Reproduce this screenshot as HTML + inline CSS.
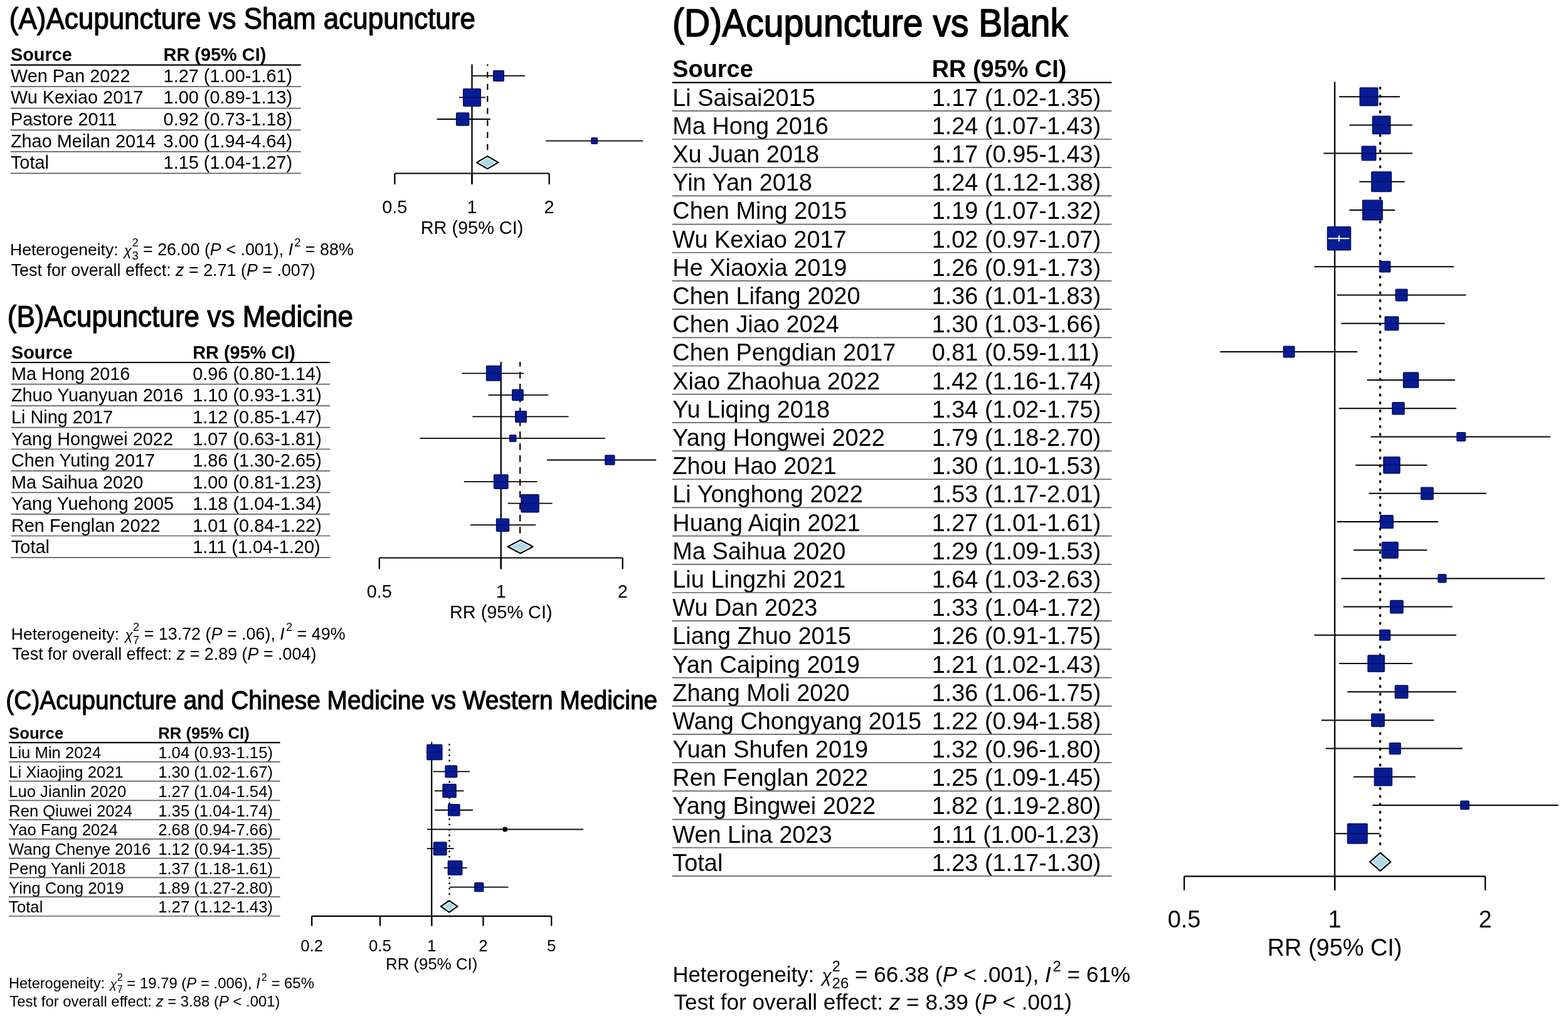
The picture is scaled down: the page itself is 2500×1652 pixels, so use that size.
<!DOCTYPE html>
<html><head><meta charset="utf-8"><title>Forest plots</title>
<style>html,body{margin:0;padding:0;background:#fff;}svg{display:block;}text{font-family:'Liberation Sans', Arial, Helvetica, sans-serif;fill:#000;}</style></head><body>
<svg xmlns="http://www.w3.org/2000/svg" width="2500" height="1652" viewBox="0 0 2500 1652">
<rect width="2500" height="1652" fill="#fff"/>
<text x="14.80" y="45.90" font-size="48.70" textLength="743.13" lengthAdjust="spacingAndGlyphs" stroke="#000" stroke-width="1.25" stroke-linejoin="round">(A)Acupuncture vs Sham acupuncture</text>
<text x="16.90" y="96.90" font-size="28.90" font-weight="bold">Source</text>
<text x="260.60" y="96.90" font-size="28.90" font-weight="bold">RR (95% CI)</text>
<line x1="16.70" y1="103.60" x2="479.80" y2="103.60" stroke="#000" stroke-width="2.2" />
<text x="16.90" y="130.90" font-size="28.90">Wen Pan 2022</text>
<text x="260.60" y="130.90" font-size="28.90">1.27 (1.00-1.61)</text>
<line x1="16.70" y1="138.16" x2="479.80" y2="138.16" stroke="#5c5f6e" stroke-width="1.7" />
<text x="16.90" y="165.46" font-size="28.90">Wu Kexiao 2017</text>
<text x="260.60" y="165.46" font-size="28.90">1.00 (0.89-1.13)</text>
<line x1="16.70" y1="172.72" x2="479.80" y2="172.72" stroke="#5c5f6e" stroke-width="1.7" />
<text x="16.90" y="200.02" font-size="28.90">Pastore 2011</text>
<text x="260.60" y="200.02" font-size="28.90">0.92 (0.73-1.18)</text>
<line x1="16.70" y1="207.28" x2="479.80" y2="207.28" stroke="#5c5f6e" stroke-width="1.7" />
<text x="16.90" y="234.58" font-size="28.90">Zhao Meilan 2014</text>
<text x="260.60" y="234.58" font-size="28.90">3.00 (1.94-4.64)</text>
<line x1="16.70" y1="241.84" x2="479.80" y2="241.84" stroke="#5c5f6e" stroke-width="1.7" />
<text x="16.90" y="269.14" font-size="28.90">Total</text>
<text x="260.60" y="269.14" font-size="28.90">1.15 (1.04-1.27)</text>
<line x1="16.70" y1="276.40" x2="479.80" y2="276.40" stroke="#5c5f6e" stroke-width="1.7" />
<line x1="777.33" y1="102.60" x2="777.33" y2="240.34" stroke="#000" stroke-width="2.2" stroke-dasharray="9.5 9.7" stroke-dashoffset="7.2"/>
<line x1="752.50" y1="102.60" x2="752.50" y2="294.00" stroke="#000" stroke-width="2.3" />
<line x1="752.50" y1="120.88" x2="837.11" y2="120.88" stroke="#000" stroke-width="1.8" />
<rect x="786.67" y="112.58" width="16.60" height="16.60" rx="1.2" fill="#081c93" stroke="#030e62" stroke-width="1.4"/>
<line x1="786.22" y1="120.88" x2="803.72" y2="120.88" stroke="#000a50" stroke-width="1.8" stroke-opacity="0.55"/>
<line x1="731.80" y1="155.44" x2="774.21" y2="155.44" stroke="#000" stroke-width="1.8" />
<rect x="738.70" y="141.64" width="27.60" height="27.60" rx="1.2" fill="#081c93" stroke="#030e62" stroke-width="1.4"/>
<line x1="738.25" y1="155.44" x2="766.75" y2="155.44" stroke="#000a50" stroke-width="1.8" stroke-opacity="0.55"/>
<line x1="696.59" y1="190.00" x2="781.91" y2="190.00" stroke="#000" stroke-width="1.8" />
<rect x="727.64" y="179.95" width="20.10" height="20.10" rx="1.2" fill="#081c93" stroke="#030e62" stroke-width="1.4"/>
<line x1="727.19" y1="190.00" x2="748.19" y2="190.00" stroke="#000a50" stroke-width="1.8" stroke-opacity="0.55"/>
<line x1="870.24" y1="224.56" x2="1025.17" y2="224.56" stroke="#000" stroke-width="1.8" />
<rect x="942.89" y="219.76" width="9.60" height="9.60" rx="1.2" fill="#081c93" stroke="#030e62" stroke-width="1.4"/>
<line x1="942.44" y1="224.56" x2="952.94" y2="224.56" stroke="#000a50" stroke-width="1.8" stroke-opacity="0.55"/>
<path d="M760.00 259.12 L777.22 249.12 L794.43 259.12 L777.22 269.12 Z" fill="#b4d9e6" stroke="#000" stroke-width="2.3" stroke-linejoin="round"/>
<path d="M763.88 259.12 L777.22 251.38 L790.55 259.12 L777.22 266.86 Z" fill="none" stroke="#d3f6fd" stroke-width="1.5" stroke-linejoin="round"/>
<line x1="629.40" y1="276.50" x2="875.70" y2="276.50" stroke="#000" stroke-width="2.2" />
<line x1="629.35" y1="276.50" x2="629.35" y2="294.00" stroke="#000" stroke-width="2.3" />
<text x="629.35" y="339.70" font-size="28.90" text-anchor="middle">0.5</text>
<line x1="752.50" y1="276.50" x2="752.50" y2="294.00" stroke="#000" stroke-width="2.3" />
<text x="752.50" y="339.70" font-size="28.90" text-anchor="middle">1</text>
<line x1="875.65" y1="276.50" x2="875.65" y2="294.00" stroke="#000" stroke-width="2.3" />
<text x="875.65" y="339.70" font-size="28.90" text-anchor="middle">2</text>
<text x="752.50" y="373.30" font-size="28.90" text-anchor="middle">RR (95% CI)</text>
<text x="16.12" y="406.60" font-size="26.88"><tspan font-size="26.53">Heterogeneity:</tspan> <tspan x="197.85" font-size="22.04" font-style="italic">χ</tspan><tspan x="210.38" y="393.16" font-size="18.28">2</tspan><tspan x="210.38" y="414.21" font-size="18.28">3</tspan><tspan x="220.55" y="406.60"> = 26.00 (</tspan><tspan font-style="italic">P</tspan> &lt; .001), <tspan font-style="italic">I</tspan><tspan font-size="18.28" y="393.16" dx="2.15">2</tspan><tspan y="406.60" dx="0.00"> = 88%</tspan></text>
<text x="17.70" y="439.50" font-size="26.88">Test for overall effect: <tspan font-style="italic">z</tspan> = 2.71 (<tspan font-style="italic">P</tspan> = .007)</text>
<text x="11.79" y="521.20" font-size="48.70" textLength="551.34" lengthAdjust="spacingAndGlyphs" stroke="#000" stroke-width="1.25" stroke-linejoin="round">(B)Acupuncture vs Medicine</text>
<text x="17.90" y="571.50" font-size="28.90" font-weight="bold">Source</text>
<text x="307.20" y="571.50" font-size="28.90" font-weight="bold">RR (95% CI)</text>
<line x1="17.50" y1="578.00" x2="526.30" y2="578.00" stroke="#000" stroke-width="2.2" />
<text x="17.90" y="605.90" font-size="28.90">Ma Hong 2016</text>
<text x="307.20" y="605.90" font-size="28.90">0.96 (0.80-1.14)</text>
<line x1="17.50" y1="612.56" x2="526.30" y2="612.56" stroke="#5c5f6e" stroke-width="1.7" />
<text x="17.90" y="640.46" font-size="28.90">Zhuo Yuanyuan 2016</text>
<text x="307.20" y="640.46" font-size="28.90">1.10 (0.93-1.31)</text>
<line x1="17.50" y1="647.12" x2="526.30" y2="647.12" stroke="#5c5f6e" stroke-width="1.7" />
<text x="17.90" y="675.02" font-size="28.90">Li Ning 2017</text>
<text x="307.20" y="675.02" font-size="28.90">1.12 (0.85-1.47)</text>
<line x1="17.50" y1="681.68" x2="526.30" y2="681.68" stroke="#5c5f6e" stroke-width="1.7" />
<text x="17.90" y="709.58" font-size="28.90">Yang Hongwei 2022</text>
<text x="307.20" y="709.58" font-size="28.90">1.07 (0.63-1.81)</text>
<line x1="17.50" y1="716.24" x2="526.30" y2="716.24" stroke="#5c5f6e" stroke-width="1.7" />
<text x="17.90" y="744.14" font-size="28.90">Chen Yuting 2017</text>
<text x="307.20" y="744.14" font-size="28.90">1.86 (1.30-2.65)</text>
<line x1="17.50" y1="750.80" x2="526.30" y2="750.80" stroke="#5c5f6e" stroke-width="1.7" />
<text x="17.90" y="778.70" font-size="28.90">Ma Saihua 2020</text>
<text x="307.20" y="778.70" font-size="28.90">1.00 (0.81-1.23)</text>
<line x1="17.50" y1="785.36" x2="526.30" y2="785.36" stroke="#5c5f6e" stroke-width="1.7" />
<text x="17.90" y="813.26" font-size="28.90">Yang Yuehong 2005</text>
<text x="307.20" y="813.26" font-size="28.90">1.18 (1.04-1.34)</text>
<line x1="17.50" y1="819.92" x2="526.30" y2="819.92" stroke="#5c5f6e" stroke-width="1.7" />
<text x="17.90" y="847.82" font-size="28.90">Ren Fenglan 2022</text>
<text x="307.20" y="847.82" font-size="28.90">1.01 (0.84-1.22)</text>
<line x1="17.50" y1="854.48" x2="526.30" y2="854.48" stroke="#5c5f6e" stroke-width="1.7" />
<text x="17.90" y="882.38" font-size="28.90">Total</text>
<text x="307.20" y="882.38" font-size="28.90">1.11 (1.04-1.20)</text>
<line x1="17.50" y1="889.04" x2="526.30" y2="889.04" stroke="#5c5f6e" stroke-width="1.7" />
<line x1="829.20" y1="577.00" x2="829.20" y2="852.98" stroke="#000" stroke-width="2.2" stroke-dasharray="10.3 8.7" stroke-dashoffset="2.9"/>
<line x1="798.75" y1="577.00" x2="798.75" y2="907.40" stroke="#000" stroke-width="2.3" />
<line x1="736.31" y1="595.28" x2="835.41" y2="595.28" stroke="#000" stroke-width="1.8" />
<rect x="775.53" y="583.48" width="23.60" height="23.60" rx="1.2" fill="#081c93" stroke="#030e62" stroke-width="1.4"/>
<line x1="775.08" y1="595.28" x2="799.58" y2="595.28" stroke="#000a50" stroke-width="1.8" stroke-opacity="0.55"/>
<line x1="778.44" y1="629.84" x2="874.31" y2="629.84" stroke="#000" stroke-width="1.8" />
<rect x="816.72" y="621.14" width="17.40" height="17.40" rx="1.2" fill="#081c93" stroke="#030e62" stroke-width="1.4"/>
<line x1="816.27" y1="629.84" x2="834.57" y2="629.84" stroke="#000a50" stroke-width="1.8" stroke-opacity="0.55"/>
<line x1="753.28" y1="664.40" x2="906.55" y2="664.40" stroke="#000" stroke-width="1.8" />
<rect x="821.66" y="655.60" width="17.60" height="17.60" rx="1.2" fill="#081c93" stroke="#030e62" stroke-width="1.4"/>
<line x1="821.21" y1="664.40" x2="839.71" y2="664.40" stroke="#000a50" stroke-width="1.8" stroke-opacity="0.55"/>
<line x1="669.47" y1="698.96" x2="964.77" y2="698.96" stroke="#000" stroke-width="1.8" />
<rect x="812.48" y="693.76" width="10.40" height="10.40" rx="1.2" fill="#081c93" stroke="#030e62" stroke-width="1.4"/>
<line x1="812.03" y1="698.96" x2="823.33" y2="698.96" stroke="#000a50" stroke-width="1.8" stroke-opacity="0.55"/>
<line x1="872.16" y1="733.52" x2="1046.20" y2="733.52" stroke="#000" stroke-width="1.8" />
<rect x="964.94" y="726.07" width="14.90" height="14.90" rx="1.2" fill="#081c93" stroke="#030e62" stroke-width="1.4"/>
<line x1="964.49" y1="733.52" x2="980.29" y2="733.52" stroke="#000a50" stroke-width="1.8" stroke-opacity="0.55"/>
<line x1="739.79" y1="768.08" x2="856.67" y2="768.08" stroke="#000" stroke-width="1.8" />
<rect x="787.55" y="756.88" width="22.40" height="22.40" rx="1.2" fill="#081c93" stroke="#030e62" stroke-width="1.4"/>
<line x1="787.10" y1="768.08" x2="810.40" y2="768.08" stroke="#000a50" stroke-width="1.8" stroke-opacity="0.55"/>
<line x1="809.72" y1="802.64" x2="880.64" y2="802.64" stroke="#000" stroke-width="1.8" />
<rect x="831.01" y="788.59" width="28.10" height="28.10" rx="1.2" fill="#081c93" stroke="#030e62" stroke-width="1.4"/>
<line x1="830.56" y1="802.64" x2="859.56" y2="802.64" stroke="#000a50" stroke-width="1.8" stroke-opacity="0.55"/>
<line x1="749.96" y1="837.20" x2="854.39" y2="837.20" stroke="#000" stroke-width="1.8" />
<rect x="791.48" y="827.15" width="20.10" height="20.10" rx="1.2" fill="#081c93" stroke="#030e62" stroke-width="1.4"/>
<line x1="791.03" y1="837.20" x2="812.03" y2="837.20" stroke="#000a50" stroke-width="1.8" stroke-opacity="0.55"/>
<path d="M809.72 871.76 L829.74 861.26 L849.77 871.76 L829.74 882.26 Z" fill="#b4d9e6" stroke="#000" stroke-width="2.3" stroke-linejoin="round"/>
<path d="M813.92 871.76 L829.74 863.46 L845.57 871.76 L829.74 880.06 Z" fill="none" stroke="#d3f6fd" stroke-width="1.5" stroke-linejoin="round"/>
<line x1="604.80" y1="889.50" x2="992.70" y2="889.50" stroke="#000" stroke-width="2.2" />
<line x1="604.80" y1="889.50" x2="604.80" y2="907.40" stroke="#000" stroke-width="2.3" />
<text x="604.80" y="952.50" font-size="28.90" text-anchor="middle">0.5</text>
<line x1="798.75" y1="889.50" x2="798.75" y2="907.40" stroke="#000" stroke-width="2.3" />
<text x="798.75" y="952.50" font-size="28.90" text-anchor="middle">1</text>
<line x1="992.70" y1="889.50" x2="992.70" y2="907.40" stroke="#000" stroke-width="2.3" />
<text x="992.70" y="952.50" font-size="28.90" text-anchor="middle">2</text>
<text x="798.75" y="985.80" font-size="28.90" text-anchor="middle">RR (95% CI)</text>
<text x="17.77" y="1019.80" font-size="26.88"><tspan font-size="26.53">Heterogeneity:</tspan> <tspan x="199.50" font-size="22.04" font-style="italic">χ</tspan><tspan x="212.03" y="1006.36" font-size="18.28">2</tspan><tspan x="212.03" y="1027.41" font-size="18.28">7</tspan><tspan x="222.20" y="1019.80"> = 13.72 (</tspan><tspan font-style="italic">P</tspan> = .06), <tspan font-style="italic">I</tspan><tspan font-size="18.28" y="1006.36" dx="2.15">2</tspan><tspan y="1019.80" dx="0.00"> = 49%</tspan></text>
<text x="19.35" y="1052.20" font-size="26.88">Test for overall effect: <tspan font-style="italic">z</tspan> = 2.89 (<tspan font-style="italic">P</tspan> = .004)</text>
<text x="9.37" y="1130.80" font-size="43.00" textLength="1038.79" lengthAdjust="spacingAndGlyphs" stroke="#000" stroke-width="1.15" stroke-linejoin="round">(C)Acupuncture and Chinese Medicine vs Western Medicine</text>
<text x="14.10" y="1177.80" font-size="25.70" font-weight="bold">Source</text>
<text x="252.20" y="1177.80" font-size="25.70" font-weight="bold">RR (95% CI)</text>
<line x1="14.00" y1="1184.20" x2="446.50" y2="1184.20" stroke="#000" stroke-width="2.2" />
<text x="14.10" y="1209.40" font-size="25.70">Liu Min 2024</text>
<text x="252.20" y="1209.40" font-size="25.70">1.04 (0.93-1.15)</text>
<line x1="14.00" y1="1214.93" x2="446.50" y2="1214.93" stroke="#5c5f6e" stroke-width="1.7" />
<text x="14.10" y="1240.13" font-size="25.70">Li Xiaojing 2021</text>
<text x="252.20" y="1240.13" font-size="25.70">1.30 (1.02-1.67)</text>
<line x1="14.00" y1="1245.66" x2="446.50" y2="1245.66" stroke="#5c5f6e" stroke-width="1.7" />
<text x="14.10" y="1270.86" font-size="25.70">Luo Jianlin 2020</text>
<text x="252.20" y="1270.86" font-size="25.70">1.27 (1.04-1.54)</text>
<line x1="14.00" y1="1276.39" x2="446.50" y2="1276.39" stroke="#5c5f6e" stroke-width="1.7" />
<text x="14.10" y="1301.59" font-size="25.70">Ren Qiuwei 2024</text>
<text x="252.20" y="1301.59" font-size="25.70">1.35 (1.04-1.74)</text>
<line x1="14.00" y1="1307.12" x2="446.50" y2="1307.12" stroke="#5c5f6e" stroke-width="1.7" />
<text x="14.10" y="1332.32" font-size="25.70">Yao Fang 2024</text>
<text x="252.20" y="1332.32" font-size="25.70">2.68 (0.94-7.66)</text>
<line x1="14.00" y1="1337.85" x2="446.50" y2="1337.85" stroke="#5c5f6e" stroke-width="1.7" />
<text x="14.10" y="1363.05" font-size="25.70">Wang Chenye 2016</text>
<text x="252.20" y="1363.05" font-size="25.70">1.12 (0.94-1.35)</text>
<line x1="14.00" y1="1368.58" x2="446.50" y2="1368.58" stroke="#5c5f6e" stroke-width="1.7" />
<text x="14.10" y="1393.78" font-size="25.70">Peng Yanli 2018</text>
<text x="252.20" y="1393.78" font-size="25.70">1.37 (1.18-1.61)</text>
<line x1="14.00" y1="1399.31" x2="446.50" y2="1399.31" stroke="#5c5f6e" stroke-width="1.7" />
<text x="14.10" y="1424.51" font-size="25.70">Ying Cong 2019</text>
<text x="252.20" y="1424.51" font-size="25.70">1.89 (1.27-2.80)</text>
<line x1="14.00" y1="1430.04" x2="446.50" y2="1430.04" stroke="#5c5f6e" stroke-width="1.7" />
<text x="14.10" y="1455.24" font-size="25.70">Total</text>
<text x="252.20" y="1455.24" font-size="25.70">1.27 (1.12-1.43)</text>
<line x1="14.00" y1="1460.77" x2="446.50" y2="1460.77" stroke="#5c5f6e" stroke-width="1.7" />
<line x1="716.57" y1="1183.20" x2="716.57" y2="1428.54" stroke="#000" stroke-width="3.0" stroke-dasharray="0.01 8.5" stroke-linecap="round" stroke-dashoffset="-4.0"/>
<line x1="688.20" y1="1183.20" x2="688.20" y2="1476.50" stroke="#000" stroke-width="2.3" />
<line x1="679.59" y1="1199.57" x2="704.79" y2="1199.57" stroke="#000" stroke-width="1.8" />
<rect x="680.81" y="1187.52" width="24.10" height="24.10" rx="1.2" fill="#081c93" stroke="#030e62" stroke-width="1.4"/>
<line x1="680.36" y1="1199.57" x2="704.79" y2="1199.57" stroke="#000a50" stroke-width="1.8" stroke-opacity="0.55"/>
<line x1="690.55" y1="1230.30" x2="749.07" y2="1230.30" stroke="#000" stroke-width="1.8" />
<rect x="710.04" y="1221.00" width="18.60" height="18.60" rx="1.2" fill="#081c93" stroke="#030e62" stroke-width="1.4"/>
<line x1="709.59" y1="1230.30" x2="729.09" y2="1230.30" stroke="#000a50" stroke-width="1.8" stroke-opacity="0.55"/>
<line x1="692.86" y1="1261.03" x2="739.45" y2="1261.03" stroke="#000" stroke-width="1.8" />
<rect x="706.02" y="1250.48" width="21.10" height="21.10" rx="1.2" fill="#081c93" stroke="#030e62" stroke-width="1.4"/>
<line x1="705.57" y1="1261.03" x2="727.57" y2="1261.03" stroke="#000a50" stroke-width="1.8" stroke-opacity="0.55"/>
<line x1="692.86" y1="1291.76" x2="753.94" y2="1291.76" stroke="#000" stroke-width="1.8" />
<rect x="714.67" y="1282.61" width="18.30" height="18.30" rx="1.2" fill="#081c93" stroke="#030e62" stroke-width="1.4"/>
<line x1="714.22" y1="1291.76" x2="733.42" y2="1291.76" stroke="#000a50" stroke-width="1.8" stroke-opacity="0.55"/>
<line x1="680.86" y1="1322.49" x2="929.86" y2="1322.49" stroke="#111" stroke-width="1.8" />
<circle cx="805.21" cy="1322.49" r="4" fill="#000"/>
<line x1="680.86" y1="1353.22" x2="723.82" y2="1353.22" stroke="#000" stroke-width="1.8" />
<rect x="691.35" y="1342.92" width="20.60" height="20.60" rx="1.2" fill="#081c93" stroke="#030e62" stroke-width="1.4"/>
<line x1="690.90" y1="1353.22" x2="712.40" y2="1353.22" stroke="#000a50" stroke-width="1.8" stroke-opacity="0.55"/>
<line x1="707.85" y1="1383.95" x2="744.73" y2="1383.95" stroke="#000" stroke-width="1.8" />
<rect x="714.37" y="1372.75" width="22.40" height="22.40" rx="1.2" fill="#081c93" stroke="#030e62" stroke-width="1.4"/>
<line x1="713.92" y1="1383.95" x2="737.22" y2="1383.95" stroke="#000a50" stroke-width="1.8" stroke-opacity="0.55"/>
<line x1="716.57" y1="1414.67" x2="810.41" y2="1414.67" stroke="#000" stroke-width="1.8" />
<rect x="756.81" y="1407.72" width="13.90" height="13.90" rx="1.2" fill="#081c93" stroke="#030e62" stroke-width="1.4"/>
<line x1="756.36" y1="1414.67" x2="771.16" y2="1414.67" stroke="#000a50" stroke-width="1.8" stroke-opacity="0.55"/>
<path d="M702.85 1445.40 L716.15 1436.20 L729.45 1445.40 L716.15 1454.61 Z" fill="#b4d9e6" stroke="#000" stroke-width="2.3" stroke-linejoin="round"/>
<path d="M706.28 1445.40 L716.15 1438.58 L726.02 1445.40 L716.15 1452.23 Z" fill="none" stroke="#d3f6fd" stroke-width="1.5" stroke-linejoin="round"/>
<line x1="497.20" y1="1460.90" x2="879.20" y2="1460.90" stroke="#000" stroke-width="2.2" />
<line x1="497.17" y1="1460.90" x2="497.17" y2="1476.50" stroke="#000" stroke-width="2.3" />
<text x="497.17" y="1516.90" font-size="25.80" text-anchor="middle">0.2</text>
<line x1="605.93" y1="1460.90" x2="605.93" y2="1476.50" stroke="#000" stroke-width="2.3" />
<text x="605.93" y="1516.90" font-size="25.80" text-anchor="middle">0.5</text>
<line x1="688.20" y1="1460.90" x2="688.20" y2="1476.50" stroke="#000" stroke-width="2.3" />
<text x="688.20" y="1516.90" font-size="25.80" text-anchor="middle">1</text>
<line x1="770.47" y1="1460.90" x2="770.47" y2="1476.50" stroke="#000" stroke-width="2.3" />
<text x="770.47" y="1516.90" font-size="25.80" text-anchor="middle">2</text>
<line x1="879.23" y1="1460.90" x2="879.23" y2="1476.50" stroke="#000" stroke-width="2.3" />
<text x="879.23" y="1516.90" font-size="25.80" text-anchor="middle">5</text>
<text x="688.20" y="1546.30" font-size="25.80" text-anchor="middle">RR (95% CI)</text>
<text x="13.96" y="1576.30" font-size="23.90"><tspan font-size="23.59">Heterogeneity:</tspan> <tspan x="175.55" font-size="19.60" font-style="italic">χ</tspan><tspan x="186.69" y="1564.35" font-size="16.25">2</tspan><tspan x="186.69" y="1583.06" font-size="16.25">7</tspan><tspan x="195.73" y="1576.30"> = 19.79 (</tspan><tspan font-style="italic">P</tspan> = .006), <tspan font-style="italic">I</tspan><tspan font-size="16.25" y="1564.35" dx="1.91">2</tspan><tspan y="1576.30" dx="0.00"> = 65%</tspan></text>
<text x="15.36" y="1604.70" font-size="23.90">Test for overall effect: <tspan font-style="italic">z</tspan> = 3.88 (<tspan font-style="italic">P</tspan> &lt; .001)</text>
<text x="1072.01" y="58.00" font-size="63.50" textLength="631.05" lengthAdjust="spacingAndGlyphs" stroke="#000" stroke-width="1.7" stroke-linejoin="round">(D)Acupuncture vs Blank</text>
<text x="1072.30" y="122.90" font-size="37.90" font-weight="bold">Source</text>
<text x="1485.70" y="122.90" font-size="37.90" font-weight="bold">RR (95% CI)</text>
<line x1="1071.70" y1="131.60" x2="1772.50" y2="131.60" stroke="#000" stroke-width="2.2" />
<text x="1072.30" y="168.70" font-size="37.90">Li Saisai2015</text>
<text x="1485.70" y="168.70" font-size="37.90">1.17 (1.02-1.35)</text>
<line x1="1071.70" y1="176.79" x2="1772.50" y2="176.79" stroke="#5c5f6e" stroke-width="1.7" />
<text x="1072.30" y="213.89" font-size="37.90">Ma Hong 2016</text>
<text x="1485.70" y="213.89" font-size="37.90">1.24 (1.07-1.43)</text>
<line x1="1071.70" y1="221.98" x2="1772.50" y2="221.98" stroke="#5c5f6e" stroke-width="1.7" />
<text x="1072.30" y="259.08" font-size="37.90">Xu Juan 2018</text>
<text x="1485.70" y="259.08" font-size="37.90">1.17 (0.95-1.43)</text>
<line x1="1071.70" y1="267.17" x2="1772.50" y2="267.17" stroke="#5c5f6e" stroke-width="1.7" />
<text x="1072.30" y="304.27" font-size="37.90">Yin Yan 2018</text>
<text x="1485.70" y="304.27" font-size="37.90">1.24 (1.12-1.38)</text>
<line x1="1071.70" y1="312.36" x2="1772.50" y2="312.36" stroke="#5c5f6e" stroke-width="1.7" />
<text x="1072.30" y="349.46" font-size="37.90">Chen Ming 2015</text>
<text x="1485.70" y="349.46" font-size="37.90">1.19 (1.07-1.32)</text>
<line x1="1071.70" y1="357.55" x2="1772.50" y2="357.55" stroke="#5c5f6e" stroke-width="1.7" />
<text x="1072.30" y="394.65" font-size="37.90">Wu Kexiao 2017</text>
<text x="1485.70" y="394.65" font-size="37.90">1.02 (0.97-1.07)</text>
<line x1="1071.70" y1="402.74" x2="1772.50" y2="402.74" stroke="#5c5f6e" stroke-width="1.7" />
<text x="1072.30" y="439.84" font-size="37.90">He Xiaoxia 2019</text>
<text x="1485.70" y="439.84" font-size="37.90">1.26 (0.91-1.73)</text>
<line x1="1071.70" y1="447.93" x2="1772.50" y2="447.93" stroke="#5c5f6e" stroke-width="1.7" />
<text x="1072.30" y="485.03" font-size="37.90">Chen Lifang 2020</text>
<text x="1485.70" y="485.03" font-size="37.90">1.36 (1.01-1.83)</text>
<line x1="1071.70" y1="493.12" x2="1772.50" y2="493.12" stroke="#5c5f6e" stroke-width="1.7" />
<text x="1072.30" y="530.22" font-size="37.90">Chen Jiao 2024</text>
<text x="1485.70" y="530.22" font-size="37.90">1.30 (1.03-1.66)</text>
<line x1="1071.70" y1="538.31" x2="1772.50" y2="538.31" stroke="#5c5f6e" stroke-width="1.7" />
<text x="1072.30" y="575.41" font-size="37.90">Chen Pengdian 2017</text>
<text x="1485.70" y="575.41" font-size="37.90">0.81 (0.59-1.11)</text>
<line x1="1071.70" y1="583.50" x2="1772.50" y2="583.50" stroke="#5c5f6e" stroke-width="1.7" />
<text x="1072.30" y="620.60" font-size="37.90">Xiao Zhaohua 2022</text>
<text x="1485.70" y="620.60" font-size="37.90">1.42 (1.16-1.74)</text>
<line x1="1071.70" y1="628.69" x2="1772.50" y2="628.69" stroke="#5c5f6e" stroke-width="1.7" />
<text x="1072.30" y="665.79" font-size="37.90">Yu Liqing 2018</text>
<text x="1485.70" y="665.79" font-size="37.90">1.34 (1.02-1.75)</text>
<line x1="1071.70" y1="673.88" x2="1772.50" y2="673.88" stroke="#5c5f6e" stroke-width="1.7" />
<text x="1072.30" y="710.98" font-size="37.90">Yang Hongwei 2022</text>
<text x="1485.70" y="710.98" font-size="37.90">1.79 (1.18-2.70)</text>
<line x1="1071.70" y1="719.07" x2="1772.50" y2="719.07" stroke="#5c5f6e" stroke-width="1.7" />
<text x="1072.30" y="756.17" font-size="37.90">Zhou Hao 2021</text>
<text x="1485.70" y="756.17" font-size="37.90">1.30 (1.10-1.53)</text>
<line x1="1071.70" y1="764.26" x2="1772.50" y2="764.26" stroke="#5c5f6e" stroke-width="1.7" />
<text x="1072.30" y="801.36" font-size="37.90">Li Yonghong 2022</text>
<text x="1485.70" y="801.36" font-size="37.90">1.53 (1.17-2.01)</text>
<line x1="1071.70" y1="809.45" x2="1772.50" y2="809.45" stroke="#5c5f6e" stroke-width="1.7" />
<text x="1072.30" y="846.55" font-size="37.90">Huang Aiqin 2021</text>
<text x="1485.70" y="846.55" font-size="37.90">1.27 (1.01-1.61)</text>
<line x1="1071.70" y1="854.64" x2="1772.50" y2="854.64" stroke="#5c5f6e" stroke-width="1.7" />
<text x="1072.30" y="891.74" font-size="37.90">Ma Saihua 2020</text>
<text x="1485.70" y="891.74" font-size="37.90">1.29 (1.09-1.53)</text>
<line x1="1071.70" y1="899.83" x2="1772.50" y2="899.83" stroke="#5c5f6e" stroke-width="1.7" />
<text x="1072.30" y="936.93" font-size="37.90">Liu Lingzhi 2021</text>
<text x="1485.70" y="936.93" font-size="37.90">1.64 (1.03-2.63)</text>
<line x1="1071.70" y1="945.02" x2="1772.50" y2="945.02" stroke="#5c5f6e" stroke-width="1.7" />
<text x="1072.30" y="982.12" font-size="37.90">Wu Dan 2023</text>
<text x="1485.70" y="982.12" font-size="37.90">1.33 (1.04-1.72)</text>
<line x1="1071.70" y1="990.21" x2="1772.50" y2="990.21" stroke="#5c5f6e" stroke-width="1.7" />
<text x="1072.30" y="1027.31" font-size="37.90">Liang Zhuo 2015</text>
<text x="1485.70" y="1027.31" font-size="37.90">1.26 (0.91-1.75)</text>
<line x1="1071.70" y1="1035.40" x2="1772.50" y2="1035.40" stroke="#5c5f6e" stroke-width="1.7" />
<text x="1072.30" y="1072.50" font-size="37.90">Yan Caiping 2019</text>
<text x="1485.70" y="1072.50" font-size="37.90">1.21 (1.02-1.43)</text>
<line x1="1071.70" y1="1080.59" x2="1772.50" y2="1080.59" stroke="#5c5f6e" stroke-width="1.7" />
<text x="1072.30" y="1117.69" font-size="37.90">Zhang Moli 2020</text>
<text x="1485.70" y="1117.69" font-size="37.90">1.36 (1.06-1.75)</text>
<line x1="1071.70" y1="1125.78" x2="1772.50" y2="1125.78" stroke="#5c5f6e" stroke-width="1.7" />
<text x="1072.30" y="1162.88" font-size="37.90">Wang Chongyang 2015</text>
<text x="1485.70" y="1162.88" font-size="37.90">1.22 (0.94-1.58)</text>
<line x1="1071.70" y1="1170.97" x2="1772.50" y2="1170.97" stroke="#5c5f6e" stroke-width="1.7" />
<text x="1072.30" y="1208.07" font-size="37.90">Yuan Shufen 2019</text>
<text x="1485.70" y="1208.07" font-size="37.90">1.32 (0.96-1.80)</text>
<line x1="1071.70" y1="1216.16" x2="1772.50" y2="1216.16" stroke="#5c5f6e" stroke-width="1.7" />
<text x="1072.30" y="1253.26" font-size="37.90">Ren Fenglan 2022</text>
<text x="1485.70" y="1253.26" font-size="37.90">1.25 (1.09-1.45)</text>
<line x1="1071.70" y1="1261.35" x2="1772.50" y2="1261.35" stroke="#5c5f6e" stroke-width="1.7" />
<text x="1072.30" y="1298.45" font-size="37.90">Yang Bingwei 2022</text>
<text x="1485.70" y="1298.45" font-size="37.90">1.82 (1.19-2.80)</text>
<line x1="1071.70" y1="1306.54" x2="1772.50" y2="1306.54" stroke="#5c5f6e" stroke-width="1.7" />
<text x="1072.30" y="1343.64" font-size="37.90">Wen Lina 2023</text>
<text x="1485.70" y="1343.64" font-size="37.90">1.11 (1.00-1.23)</text>
<line x1="1071.70" y1="1351.73" x2="1772.50" y2="1351.73" stroke="#5c5f6e" stroke-width="1.7" />
<text x="1072.30" y="1388.83" font-size="37.90">Total</text>
<text x="1485.70" y="1388.83" font-size="37.90">1.23 (1.17-1.30)</text>
<line x1="1071.70" y1="1396.92" x2="1772.50" y2="1396.92" stroke="#5c5f6e" stroke-width="1.7" />
<line x1="2200.60" y1="130.60" x2="2200.60" y2="1350.23" stroke="#000" stroke-width="3.5" stroke-dasharray="1.5 11.05" stroke-linecap="round" stroke-dashoffset="3.3"/>
<line x1="2128.10" y1="130.60" x2="2128.10" y2="1419.70" stroke="#000" stroke-width="2.3" />
<line x1="2134.96" y1="154.19" x2="2232.01" y2="154.19" stroke="#000" stroke-width="2.0" />
<rect x="2168.16" y="139.89" width="28.60" height="28.60" rx="1.2" fill="#081c93" stroke="#030e62" stroke-width="1.4"/>
<line x1="2167.71" y1="154.19" x2="2197.21" y2="154.19" stroke="#000a50" stroke-width="2.0" stroke-opacity="0.55"/>
<line x1="2151.53" y1="199.38" x2="2251.94" y2="199.38" stroke="#000" stroke-width="2.0" />
<rect x="2188.38" y="185.19" width="28.40" height="28.40" rx="1.2" fill="#081c93" stroke="#030e62" stroke-width="1.4"/>
<line x1="2187.93" y1="199.38" x2="2217.23" y2="199.38" stroke="#000a50" stroke-width="2.0" stroke-opacity="0.55"/>
<line x1="2110.34" y1="244.57" x2="2251.94" y2="244.57" stroke="#000" stroke-width="2.0" />
<rect x="2171.16" y="233.27" width="22.60" height="22.60" rx="1.2" fill="#081c93" stroke="#030e62" stroke-width="1.4"/>
<line x1="2170.71" y1="244.57" x2="2194.21" y2="244.57" stroke="#000a50" stroke-width="2.0" stroke-opacity="0.55"/>
<line x1="2167.34" y1="289.76" x2="2239.62" y2="289.76" stroke="#000" stroke-width="2.0" />
<rect x="2186.78" y="273.96" width="31.60" height="31.60" rx="1.2" fill="#081c93" stroke="#030e62" stroke-width="1.4"/>
<line x1="2186.33" y1="289.76" x2="2218.83" y2="289.76" stroke="#000a50" stroke-width="2.0" stroke-opacity="0.55"/>
<line x1="2151.53" y1="334.95" x2="2224.23" y2="334.95" stroke="#000" stroke-width="2.0" />
<rect x="2172.53" y="319.15" width="31.60" height="31.60" rx="1.2" fill="#081c93" stroke="#030e62" stroke-width="1.4"/>
<line x1="2172.08" y1="334.95" x2="2204.58" y2="334.95" stroke="#000a50" stroke-width="2.0" stroke-opacity="0.55"/>
<line x1="2117.55" y1="380.14" x2="2151.53" y2="380.14" stroke="#000" stroke-width="2.0" />
<rect x="2116.41" y="361.59" width="37.10" height="37.10" rx="1.2" fill="#081c93" stroke="#030e62" stroke-width="1.4"/>
<line x1="2117.55" y1="380.14" x2="2151.53" y2="380.14" stroke="#fff" stroke-width="2.0" />
<line x1="2134.96" y1="375.14" x2="2134.96" y2="385.14" stroke="#fff" stroke-width="2" />
<line x1="2095.45" y1="425.34" x2="2317.89" y2="425.34" stroke="#000" stroke-width="2.0" />
<rect x="2199.57" y="416.79" width="17.10" height="17.10" rx="1.2" fill="#081c93" stroke="#030e62" stroke-width="1.4"/>
<line x1="2199.12" y1="425.34" x2="2217.12" y2="425.34" stroke="#000a50" stroke-width="2.0" stroke-opacity="0.55"/>
<line x1="2131.55" y1="470.52" x2="2337.34" y2="470.52" stroke="#000" stroke-width="2.0" />
<rect x="2225.27" y="461.22" width="18.60" height="18.60" rx="1.2" fill="#081c93" stroke="#030e62" stroke-width="1.4"/>
<line x1="2224.82" y1="470.52" x2="2244.32" y2="470.52" stroke="#000a50" stroke-width="2.0" stroke-opacity="0.55"/>
<line x1="2138.33" y1="515.72" x2="2303.58" y2="515.72" stroke="#000" stroke-width="2.0" />
<rect x="2208.14" y="504.92" width="21.60" height="21.60" rx="1.2" fill="#081c93" stroke="#030e62" stroke-width="1.4"/>
<line x1="2207.69" y1="515.72" x2="2230.19" y2="515.72" stroke="#000a50" stroke-width="2.0" stroke-opacity="0.55"/>
<line x1="1945.41" y1="560.90" x2="2164.23" y2="560.90" stroke="#000" stroke-width="2.0" />
<rect x="2046.34" y="552.11" width="17.60" height="17.60" rx="1.2" fill="#081c93" stroke="#030e62" stroke-width="1.4"/>
<line x1="2045.89" y1="560.90" x2="2064.39" y2="560.90" stroke="#000a50" stroke-width="2.0" stroke-opacity="0.55"/>
<line x1="2179.49" y1="606.10" x2="2319.88" y2="606.10" stroke="#000" stroke-width="2.0" />
<rect x="2237.46" y="594.05" width="24.10" height="24.10" rx="1.2" fill="#081c93" stroke="#030e62" stroke-width="1.4"/>
<line x1="2237.01" y1="606.10" x2="2262.01" y2="606.10" stroke="#000a50" stroke-width="2.0" stroke-opacity="0.55"/>
<line x1="2134.96" y1="651.28" x2="2321.87" y2="651.28" stroke="#000" stroke-width="2.0" />
<rect x="2219.89" y="641.74" width="19.10" height="19.10" rx="1.2" fill="#081c93" stroke="#030e62" stroke-width="1.4"/>
<line x1="2219.44" y1="651.28" x2="2239.44" y2="651.28" stroke="#000a50" stroke-width="2.0" stroke-opacity="0.55"/>
<line x1="2185.41" y1="696.48" x2="2472.01" y2="696.48" stroke="#000" stroke-width="2.0" />
<rect x="2322.89" y="689.68" width="13.60" height="13.60" rx="1.2" fill="#081c93" stroke="#030e62" stroke-width="1.4"/>
<line x1="2322.44" y1="696.48" x2="2336.94" y2="696.48" stroke="#000a50" stroke-width="2.0" stroke-opacity="0.55"/>
<line x1="2161.10" y1="741.66" x2="2275.35" y2="741.66" stroke="#000" stroke-width="2.0" />
<rect x="2205.89" y="728.62" width="26.10" height="26.10" rx="1.2" fill="#081c93" stroke="#030e62" stroke-width="1.4"/>
<line x1="2205.44" y1="741.66" x2="2232.44" y2="741.66" stroke="#000a50" stroke-width="2.0" stroke-opacity="0.55"/>
<line x1="2182.46" y1="786.86" x2="2369.83" y2="786.86" stroke="#000" stroke-width="2.0" />
<rect x="2265.65" y="777.15" width="19.40" height="19.40" rx="1.2" fill="#081c93" stroke="#030e62" stroke-width="1.4"/>
<line x1="2265.20" y1="786.86" x2="2285.50" y2="786.86" stroke="#000a50" stroke-width="2.0" stroke-opacity="0.55"/>
<line x1="2131.55" y1="832.04" x2="2292.99" y2="832.04" stroke="#000" stroke-width="2.0" />
<rect x="2200.56" y="821.75" width="20.60" height="20.60" rx="1.2" fill="#081c93" stroke="#030e62" stroke-width="1.4"/>
<line x1="2200.11" y1="832.04" x2="2221.61" y2="832.04" stroke="#000a50" stroke-width="2.0" stroke-opacity="0.55"/>
<line x1="2157.94" y1="877.24" x2="2275.35" y2="877.24" stroke="#000" stroke-width="2.0" />
<rect x="2203.47" y="864.44" width="25.60" height="25.60" rx="1.2" fill="#081c93" stroke="#030e62" stroke-width="1.4"/>
<line x1="2203.02" y1="877.24" x2="2229.52" y2="877.24" stroke="#000a50" stroke-width="2.0" stroke-opacity="0.55"/>
<line x1="2138.33" y1="922.42" x2="2462.92" y2="922.42" stroke="#000" stroke-width="2.0" />
<rect x="2292.99" y="916.02" width="12.80" height="12.80" rx="1.2" fill="#081c93" stroke="#030e62" stroke-width="1.4"/>
<line x1="2292.54" y1="922.42" x2="2306.24" y2="922.42" stroke="#000a50" stroke-width="2.0" stroke-opacity="0.55"/>
<line x1="2141.68" y1="967.62" x2="2315.88" y2="967.62" stroke="#000" stroke-width="2.0" />
<rect x="2216.64" y="957.41" width="20.40" height="20.40" rx="1.2" fill="#081c93" stroke="#030e62" stroke-width="1.4"/>
<line x1="2216.19" y1="967.62" x2="2237.49" y2="967.62" stroke="#000a50" stroke-width="2.0" stroke-opacity="0.55"/>
<line x1="2095.45" y1="1012.80" x2="2321.87" y2="1012.80" stroke="#000" stroke-width="2.0" />
<rect x="2199.82" y="1004.50" width="16.60" height="16.60" rx="1.2" fill="#081c93" stroke="#030e62" stroke-width="1.4"/>
<line x1="2199.37" y1="1012.80" x2="2216.87" y2="1012.80" stroke="#000a50" stroke-width="2.0" stroke-opacity="0.55"/>
<line x1="2134.96" y1="1057.99" x2="2251.94" y2="1057.99" stroke="#000" stroke-width="2.0" />
<rect x="2180.95" y="1044.84" width="26.30" height="26.30" rx="1.2" fill="#081c93" stroke="#030e62" stroke-width="1.4"/>
<line x1="2180.50" y1="1057.99" x2="2207.70" y2="1057.99" stroke="#000a50" stroke-width="2.0" stroke-opacity="0.55"/>
<line x1="2148.28" y1="1103.18" x2="2321.87" y2="1103.18" stroke="#000" stroke-width="2.0" />
<rect x="2224.37" y="1092.98" width="20.40" height="20.40" rx="1.2" fill="#081c93" stroke="#030e62" stroke-width="1.4"/>
<line x1="2223.92" y1="1103.18" x2="2245.22" y2="1103.18" stroke="#000a50" stroke-width="2.0" stroke-opacity="0.55"/>
<line x1="2106.68" y1="1148.38" x2="2286.48" y2="1148.38" stroke="#000" stroke-width="2.0" />
<rect x="2186.75" y="1138.17" width="20.40" height="20.40" rx="1.2" fill="#081c93" stroke="#030e62" stroke-width="1.4"/>
<line x1="2186.30" y1="1148.38" x2="2207.60" y2="1148.38" stroke="#000a50" stroke-width="2.0" stroke-opacity="0.55"/>
<line x1="2113.97" y1="1193.56" x2="2331.62" y2="1193.56" stroke="#000" stroke-width="2.0" />
<rect x="2215.33" y="1184.66" width="17.80" height="17.80" rx="1.2" fill="#081c93" stroke="#030e62" stroke-width="1.4"/>
<line x1="2214.88" y1="1193.56" x2="2233.58" y2="1193.56" stroke="#000a50" stroke-width="2.0" stroke-opacity="0.55"/>
<line x1="2157.94" y1="1238.75" x2="2256.75" y2="1238.75" stroke="#000" stroke-width="2.0" />
<rect x="2191.31" y="1224.70" width="28.10" height="28.10" rx="1.2" fill="#081c93" stroke="#030e62" stroke-width="1.4"/>
<line x1="2190.86" y1="1238.75" x2="2219.86" y2="1238.75" stroke="#000a50" stroke-width="2.0" stroke-opacity="0.55"/>
<line x1="2188.33" y1="1283.94" x2="2484.60" y2="1283.94" stroke="#000" stroke-width="2.0" />
<rect x="2328.75" y="1277.24" width="13.40" height="13.40" rx="1.2" fill="#081c93" stroke="#030e62" stroke-width="1.4"/>
<line x1="2328.30" y1="1283.94" x2="2342.60" y2="1283.94" stroke="#000a50" stroke-width="2.0" stroke-opacity="0.55"/>
<line x1="2128.10" y1="1329.13" x2="2199.78" y2="1329.13" stroke="#000" stroke-width="2.0" />
<rect x="2148.43" y="1313.33" width="31.60" height="31.60" rx="1.2" fill="#081c93" stroke="#030e62" stroke-width="1.4"/>
<line x1="2147.98" y1="1329.13" x2="2180.48" y2="1329.13" stroke="#000a50" stroke-width="2.0" stroke-opacity="0.55"/>
<path d="M2184.10 1374.32 L2200.70 1359.92 L2217.30 1374.32 L2200.70 1388.72 Z" fill="#b4d9e6" stroke="#000" stroke-width="2.3" stroke-linejoin="round"/>
<path d="M2187.08 1374.32 L2200.70 1362.51 L2214.33 1374.32 L2200.70 1386.14 Z" fill="none" stroke="#d3f6fd" stroke-width="1.5" stroke-linejoin="round"/>
<line x1="1888.10" y1="1397.30" x2="2368.10" y2="1397.30" stroke="#000" stroke-width="2.2" />
<line x1="1888.10" y1="1397.30" x2="1888.10" y2="1419.70" stroke="#000" stroke-width="2.3" />
<text x="1888.10" y="1478.80" font-size="37.90" text-anchor="middle">0.5</text>
<line x1="2128.10" y1="1397.30" x2="2128.10" y2="1419.70" stroke="#000" stroke-width="2.3" />
<text x="2128.10" y="1478.80" font-size="37.90" text-anchor="middle">1</text>
<line x1="2368.10" y1="1397.30" x2="2368.10" y2="1419.70" stroke="#000" stroke-width="2.3" />
<text x="2368.10" y="1478.80" font-size="37.90" text-anchor="middle">2</text>
<text x="2128.10" y="1524.30" font-size="37.90" text-anchor="middle">RR (95% CI)</text>
<text x="1072.45" y="1566.40" font-size="35.17"><tspan font-size="34.71">Heterogeneity:</tspan> <tspan x="1310.23" font-size="28.84" font-style="italic">χ</tspan><tspan x="1326.62" y="1548.82" font-size="23.92">2</tspan><tspan x="1326.62" y="1576.35" font-size="23.92">26</tspan><tspan x="1353.23" y="1566.40"> = 66.38 (</tspan><tspan font-style="italic">P</tspan> &lt; .001), <tspan font-style="italic">I</tspan><tspan font-size="23.92" y="1548.82" dx="2.81">2</tspan><tspan y="1566.40" dx="0.00"> = 61%</tspan></text>
<text x="1074.51" y="1610.40" font-size="35.17">Test for overall effect: <tspan font-style="italic">z</tspan> = 8.39 (<tspan font-style="italic">P</tspan> &lt; .001)</text>
</svg></body></html>
